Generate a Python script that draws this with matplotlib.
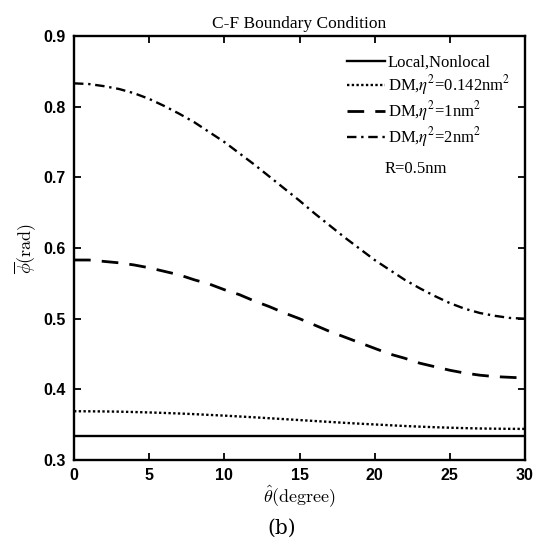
import matplotlib
matplotlib.use("Agg")
import matplotlib.pyplot as plt
from matplotlib.font_manager import FontProperties

theta = list(range(0, 31))
local_nonlocal = [0.3333] * 31
dm_0142 = [0.3690, 0.3689, 0.3687, 0.3684, 0.3679, 0.3673, 0.3666, 0.3658, 0.3649, 0.3638,
           0.3628, 0.3616, 0.3604, 0.3591, 0.3578, 0.3565, 0.3552, 0.3539, 0.3526, 0.3514,
           0.3503, 0.3492, 0.3481, 0.3472, 0.3464, 0.3457, 0.3451, 0.3446, 0.3443, 0.3441, 0.3440]
dm_1 = [0.583, 0.583, 0.581, 0.579, 0.576, 0.572, 0.567, 0.562, 0.555, 0.549,
        0.541, 0.534, 0.525, 0.517, 0.508, 0.500, 0.491, 0.482, 0.474, 0.466,
        0.458, 0.450, 0.444, 0.437, 0.432, 0.427, 0.423, 0.420, 0.418, 0.417, 0.416]
dm_2 = [0.833, 0.832, 0.829, 0.825, 0.819, 0.811, 0.801, 0.790, 0.778, 0.764,
        0.750, 0.734, 0.718, 0.701, 0.684, 0.667, 0.649, 0.632, 0.615, 0.599,
        0.583, 0.569, 0.555, 0.543, 0.532, 0.522, 0.514, 0.508, 0.504, 0.501, 0.500]

labels = ["Local,Nonlocal", r"DM,$\eta^2$=0.142nm$^2$", r"DM,$\eta^2$=1nm$^2$", r"DM,$\eta^2$=2nm$^2$"]
xticks = [0, 5, 10, 15, 20, 25, 30]
yticks = [0.3, 0.4, 0.5, 0.6, 0.7, 0.8, 0.9]

fig = plt.figure(figsize=(5.40, 5.51), dpi=100)
ax = fig.add_axes([74/540, 1-460/551, (525-74)/540, (460-36)/551])

lw = 1.7
ax.plot(theta, local_nonlocal, color='black', lw=lw, ls='-', label=labels[0])
ax.plot(theta, dm_0142, color='black', lw=lw, ls=(0, (1, 1)), label=labels[1])
ax.plot(theta, dm_1, color='black', lw=lw+0.3, ls=(0, (6, 4)), label=labels[2])
ax.plot(theta, dm_2, color='black', lw=lw, ls=(0, (4, 2, 1, 2)), label=labels[3])

ax.set_xlim(0, 30)
ax.set_ylim(0.3, 0.9)
ax.set_xticks(xticks)
ax.set_yticks(yticks)
ax.set_xticklabels([str(t) for t in xticks])
ax.set_yticklabels([f"{t:.1f}" for t in yticks])
ax.tick_params(direction='in', top=True, right=True, length=5, width=1.3, pad=6)
for lab in ax.get_xticklabels() + ax.get_yticklabels():
    lab.set_fontfamily('Liberation Sans')
    lab.set_fontweight('bold')
    lab.set_fontsize(11.5)
for sp in ax.spines.values():
    sp.set_linewidth(1.7)

ax.set_title("C-F Boundary Condition", family='Liberation Serif', fontsize=12.5, pad=6)
ax.set_xlabel(r"$\hat{\theta}(\mathrm{degree})$", fontsize=13, math_fontfamily='cm', labelpad=0)
ax.set_ylabel(r"$\overline{\phi}(\mathrm{rad})$", fontsize=13, math_fontfamily='cm', labelpad=3)

leg_prop = FontProperties(family='Liberation Serif', size=12, math_fontfamily='stix')
leg = ax.legend(loc='upper left', bbox_to_anchor=((347-74)/451, 0.955), frameon=False,
                prop=leg_prop, handlelength=2.3, handletextpad=0.15, labelspacing=0.12,
                borderpad=0, borderaxespad=0)

ax.text((385-74)/451, (460-169)/424, "R=0.5nm", transform=ax.transAxes,
        family='Liberation Serif', fontsize=12, va='center', ha='left')

fig.text(282/540, 1-528/551, "(b)", family='DejaVu Serif', fontsize=14.5, ha='center', va='center')

fig.savefig("out.png", dpi=100)
